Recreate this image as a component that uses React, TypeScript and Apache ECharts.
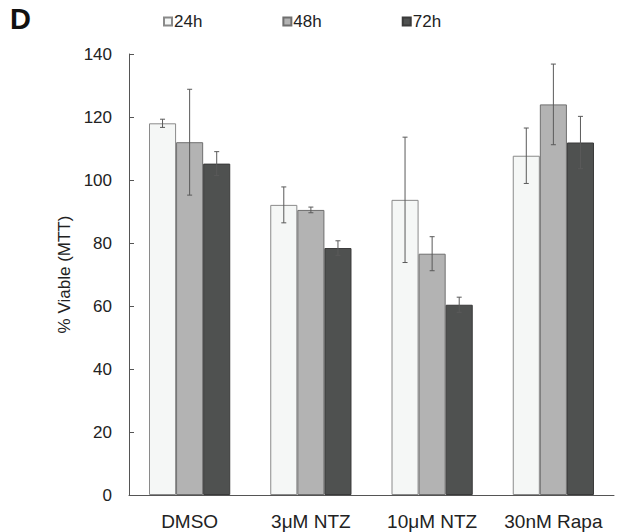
import React, { useEffect, useRef } from "react";
import * as echarts from "echarts";

const categories = ["DMSO", "3\u03bcM NTZ", "10\u03bcM NTZ", "30nM Rapa"];
const seriesNames = ["24h", "48h", "72h"];
const values24 = [118, 92.1, 93.7, 107.7];
const values48 = [112, 90.5, 76.6, 124];
const values72 = [105.2, 78.4, 60.4, 111.9];
const err24 = [1.3, 5.7, 19.9, 8.8];
const err48 = [16.8, 0.9, 5.4, 12.8];
const err72 = [3.8, 2.3, 2.4, 8.3];
const yTicks = [0, 20, 40, 60, 80, 100, 120, 140];

const fills = ["#f5f7f6", "#b3b3b3", "#4f5150"];
const borders = ["#8a8a8a", "#6f6f6f", "#3a3a3a"];

export default function App() {
  const ref = useRef<HTMLDivElement>(null);
  useEffect(() => {
    if (!ref.current) return;
    const chart = echarts.init(ref.current, undefined, { renderer: "svg" });
    const vals = [values24, values48, values72];
    const errs = [err24, err48, err72];
    const barGapFrac = 0.33;
    const barSeries = seriesNames.map((name, k) => ({
      name,
      type: "bar",
      data: vals[k],
      barGap: "0%",
      barCategoryGap: "33%",
      itemStyle: { color: fills[k], borderColor: borders[k], borderWidth: 1 },
      z: 2,
    }));
    const errSeries = seriesNames.map((name, k) => ({
      name: name + "-err",
      type: "custom",
      data: vals[k].map((v, i) => [i, v, errs[k][i]]),
      z: 5,
      silent: true,
      renderItem: (params: any, api: any) => {
        const i = api.value(0);
        const v = api.value(1);
        const e = api.value(2);
        const band = api.size([1, 0])[0];
        const barW = (band * (1 - barGapFrac)) / 3;
        const c = api.coord([i, v]);
        const x = c[0] + (k - 1) * barW;
        const top = api.coord([i, v + e])[1];
        const bot = api.coord([i, v - e])[1];
        const cap = 2.5;
        const st = { stroke: "#5a5a5a", lineWidth: 1 };
        return {
          type: "group",
          children: [
            { type: "line", shape: { x1: x, y1: top, x2: x, y2: bot }, style: st },
            { type: "line", shape: { x1: x - cap, y1: top, x2: x + cap, y2: top }, style: st },
            { type: "line", shape: { x1: x - cap, y1: bot, x2: x + cap, y2: bot }, style: st },
          ],
        };
      },
    }));
    chart.setOption({
      animation: false,
      textStyle: { fontFamily: "Liberation Sans, Arial, sans-serif" },
      grid: { left: 129, right: 12, top: 54, bottom: 37 },
      legend: {
        data: seriesNames,
        left: 158,
        top: 8,
        itemWidth: 8,
        itemHeight: 8,
        itemGap: 80,
        textStyle: { fontSize: 17, color: "#222", padding: [0, 0, 0, -3] },
        icon: "rect",
      },
      xAxis: {
        type: "category",
        data: categories,
        axisLine: { lineStyle: { color: "#555" } },
        axisTick: { show: false },
        axisLabel: { fontSize: 19, color: "#222", margin: 17, interval: 0 },
      },
      yAxis: {
        type: "value",
        min: 0,
        max: 140,
        interval: 20,
        name: "% Viable (MTT)",
        nameLocation: "middle",
        nameGap: 49,
        nameTextStyle: { fontSize: 17, color: "#222" },
        axisLine: { show: true, lineStyle: { color: "#555" } },
        axisTick: { show: true, inside: true, length: 5, lineStyle: { color: "#555" } },
        axisLabel: { fontSize: 17, color: "#222", margin: 17 },
        splitLine: { show: false },
      },
      graphic: [
        {
          type: "text",
          left: 10,
          top: 4,
          style: { text: "D", fontSize: 29, fontWeight: "bold", fill: "#111", fontFamily: "Liberation Sans, Arial, sans-serif" },
        },
      ],
      series: [...barSeries, ...errSeries],
    });
    return () => chart.dispose();
  }, []);
  return <div ref={ref} style={{ width: 626, height: 532, position: "absolute", left: 0, top: 0 }} />;
}
